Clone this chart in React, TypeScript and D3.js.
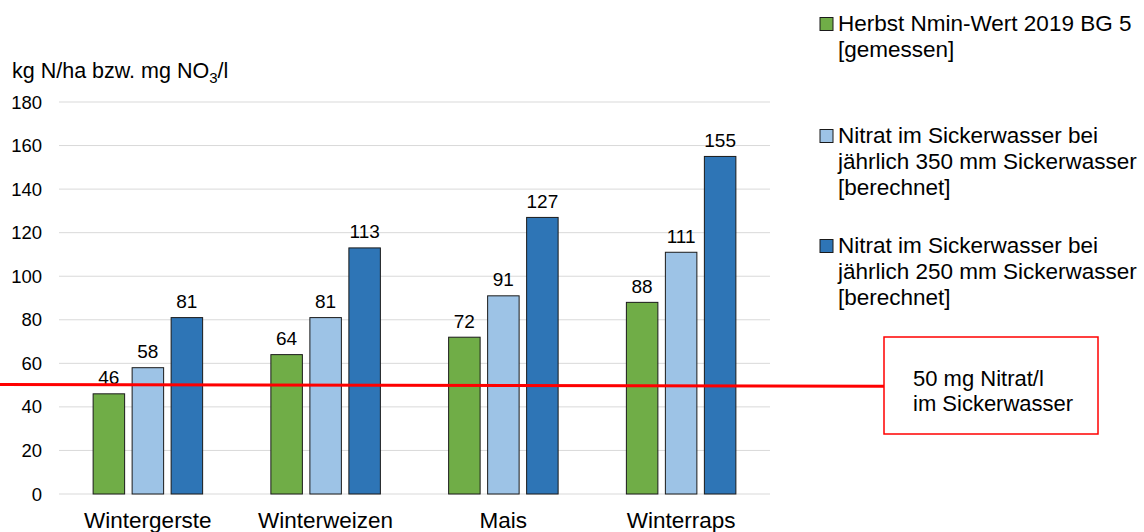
import React from "react";
import * as d3 from "d3";

const categories = ["Wintergerste", "Winterweizen", "Mais", "Winterraps"];
const seriesNames = [
  ["Herbst Nmin-Wert 2019 BG 5", "[gemessen]"],
  ["Nitrat im Sickerwasser bei", "jährlich 350 mm Sickerwasser", "[berechnet]"],
  ["Nitrat im Sickerwasser bei", "jährlich 250 mm Sickerwasser", "[berechnet]"],
];
const herbstNmin = [46, 64, 72, 88];
const nitrat350 = [58, 81, 91, 111];
const nitrat250 = [81, 113, 127, 155];
const seriesValues = [herbstNmin, nitrat350, nitrat250];
const seriesColors = ["#70AD47", "#9DC3E6", "#2E75B6"];
const yTicks = [0, 20, 40, 60, 80, 100, 120, 140, 160, 180];
const limitValue = 50;

const FONT = "'Liberation Sans', Arial, sans-serif";

export default function App() {
  const W = 1144, H = 532;
  const left = 59, right = 770, top = 102, bottom = 494;
  const x = d3.scaleBand<string>().domain(categories).range([left, right]);
  const y = d3.scaleLinear().domain([0, 180]).range([bottom, top]);
  const barW = 31.5, gap = 7.5;
  const groupW = barW * 3 + gap * 2;

  return (
    <svg width={W} height={H} style={{ position: "absolute", left: 0, top: 0, background: "#fff" }} fontFamily={FONT}>
      {yTicks.map((t) => (
        <g key={t}>
          <line x1={left} x2={right} y1={y(t)} y2={y(t)} stroke="#d9d9d9" strokeWidth={1} />
          <text x={42} y={y(t) + 6.5} textAnchor="end" fontSize={18.5} fill="#000">{t}</text>
        </g>
      ))}
      <text x={12} y={78} fontSize={21.5} fill="#000">
        kg N/ha bzw. mg NO<tspan dy={5} fontSize={15}>3</tspan><tspan dy={-5}>/l</tspan>
      </text>
      {categories.map((c, ci) => {
        const cx = (x(c) as number) + x.bandwidth() / 2;
        const x0 = cx - groupW / 2;
        return (
          <g key={c}>
            {seriesValues.map((vals, si) => {
              const bx = x0 + si * (barW + gap);
              const v = vals[ci];
              return (
                <g key={si}>
                  <rect x={bx} y={y(v)} width={barW} height={y(0) - y(v)} fill={seriesColors[si]} stroke="#1a1a1a" strokeWidth={1} />
                  <text x={bx + barW / 2} y={y(v) - 9.5} textAnchor="middle" fontSize={19} fill="#000">{v}</text>
                </g>
              );
            })}
            <text x={cx} y={528} textAnchor="middle" fontSize={22.5} fill="#000">{c}</text>
          </g>
        );
      })}
      <line x1={0} x2={884} y1={y(limitValue) - 0.5} y2={y(limitValue) + 1.2} stroke="#ff0000" strokeWidth={3} />
      <rect x={884} y={337} width={214} height={97} fill="#fff" stroke="#ff0000" strokeWidth={1.5} />
      <text x={913} y={386} fontSize={22} fill="#000">50 mg Nitrat/l</text>
      <text x={913} y={411} fontSize={22} fill="#000">im Sickerwasser</text>
      {seriesNames.map((lines, si) => {
        const baseY = [31, 143, 253][si];
        return (
          <g key={si}>
            <rect x={820} y={baseY - 13.5} width={13} height={13} fill={seriesColors[si]} stroke="#1a1a1a" strokeWidth={1} />
            {lines.map((l, li) => (
              <text key={li} x={838} y={baseY + li * 26} fontSize={22.5} fill="#000">{l}</text>
            ))}
          </g>
        );
      })}
    </svg>
  );
}
